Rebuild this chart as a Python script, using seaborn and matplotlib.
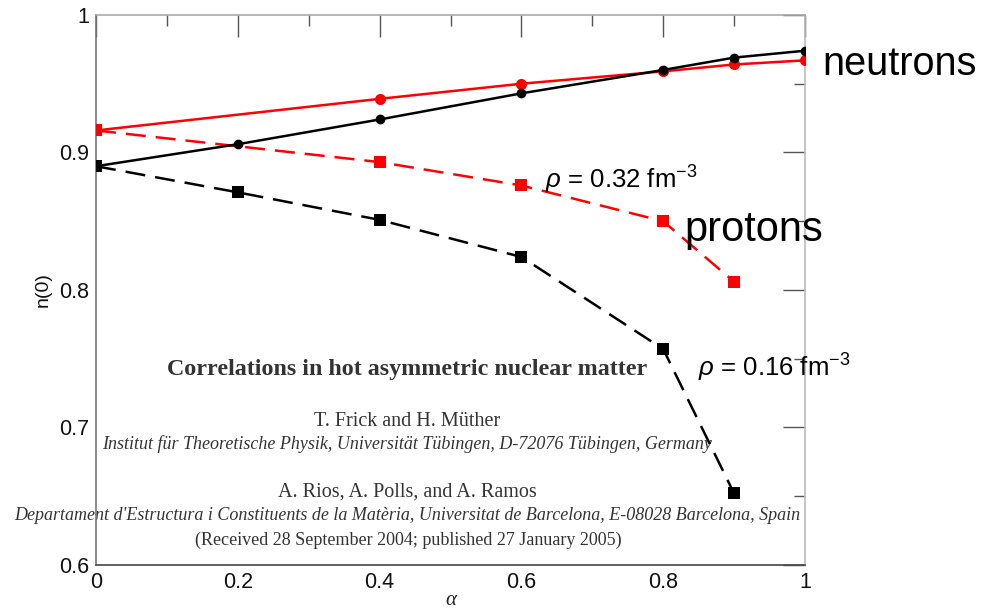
import matplotlib
matplotlib.use("Agg")
import matplotlib.pyplot as plt
import seaborn as sns
from matplotlib.ticker import MultipleLocator

sns.set_theme(style="white")
plt.rcParams["font.family"] = ["Liberation Sans", "DejaVu Sans"]
plt.rcParams["mathtext.fontset"] = "custom"
plt.rcParams["mathtext.rm"] = "Liberation Sans"
plt.rcParams["mathtext.it"] = "Liberation Sans:italic"

# Momentum distribution at zero momentum vs. isospin asymmetry
alpha_n16 = [0.0, 0.2, 0.4, 0.6, 0.8, 0.9, 1.0]
n_neut_16 = [0.890, 0.906, 0.924, 0.943, 0.960, 0.969, 0.974]

alpha_n32 = [0.0, 0.4, 0.6, 0.8, 0.9, 1.0]
n_neut_32 = [0.916, 0.939, 0.950, 0.959, 0.964, 0.967]

alpha_p32 = [0.0, 0.4, 0.6, 0.8, 0.9]
n_prot_32 = [0.916, 0.893, 0.876, 0.850, 0.806]

alpha_p16 = [0.0, 0.2, 0.4, 0.6, 0.8, 0.9]
n_prot_16 = [0.890, 0.871, 0.851, 0.824, 0.757, 0.652]

x_ticks = [0, 0.2, 0.4, 0.6, 0.8, 1]
x_tick_labels = ["0", "0.2", "0.4", "0.6", "0.8", "1"]
y_ticks = [0.6, 0.7, 0.8, 0.9, 1.0]
y_tick_labels = ["0.6", "0.7", "0.8", "0.9", "1"]

fig = plt.figure(figsize=(9.88, 6.11), dpi=100)
ax = fig.add_axes([0.0972, 0.0753, 0.7176, 0.9002])

lw = 1.8
dash = (0, (8, 4))
# neutrons, solid lines with circles
sns.lineplot(x=alpha_n16, y=n_neut_16, ax=ax, color="black", lw=lw,
             marker="o", markersize=7, markeredgewidth=0, zorder=4)
sns.lineplot(x=alpha_n32, y=n_neut_32, ax=ax, color="#ff0000", lw=lw,
             marker="o", markersize=8, markeredgewidth=0, zorder=3)
# protons, dashed lines with squares
sns.lineplot(x=alpha_p32, y=n_prot_32, ax=ax, color="#ff0000", lw=lw,
             marker="s", markersize=8, markeredgewidth=0, zorder=3,
             dashes=False, linestyle=dash)
sns.lineplot(x=alpha_p16, y=n_prot_16, ax=ax, color="black", lw=lw,
             marker="s", markersize=8, markeredgewidth=0, zorder=4,
             dashes=False, linestyle=dash)

ax.set_xlim(0, 1)
ax.set_ylim(0.6, 1.0)
ax.set_xticks(x_ticks)
ax.set_xticklabels(x_tick_labels)
ax.set_yticks(y_ticks)
ax.set_yticklabels(y_tick_labels)
ax.xaxis.set_minor_locator(MultipleLocator(0.1))
ax.yaxis.set_minor_locator(MultipleLocator(0.05))
ax.tick_params(which="major", direction="in", length=16, width=1.0,
               color="#555555", top=True, right=True, labelsize=15.5,
               labelcolor="#111111", pad=5)
ax.tick_params(which="minor", direction="in", length=8, width=1.0,
               color="#555555", top=True, right=True)

for side, col in [("left", "#777777"), ("top", "#aaaaaa"),
                  ("right", "#bbbbbb"), ("bottom", "#444444")]:
    ax.spines[side].set_color(col)
    ax.spines[side].set_linewidth(1.2)
    ax.spines[side].set_visible(True)

ax.set_xlabel("α", family="Liberation Serif", style="italic", fontsize=15,
              color="#222222")
ax.xaxis.set_label_coords(0.5, -0.047)
ax.set_ylabel("n(0)", fontsize=14, color="#111111")
ax.yaxis.set_label_coords(-0.062, 0.5)
ax.grid(False)

# series annotations
fig.text(822 / 988, 1 - 64 / 611, "neutrons", fontsize=28.5, va="center",
         ha="left", color="black")
fig.text(684 / 988, 1 - 230 / 611, "protons", fontsize=30, va="center",
         ha="left", color="black")
fig.text(545 / 988, 1 - 180 / 611, r"$\it{\rho}$ = 0.32 fm$^{-3}$",
         fontsize=18.5, va="center", ha="left", color="black")
fig.text(698 / 988, 1 - 368 / 611, r"$\it{\rho}$ = 0.16 fm$^{-3}$",
         fontsize=18.5, va="center", ha="left", color="black")

# publication header placed inside the plotting area
serif = "Liberation Serif"
hdr = "#333333"
header = [
    (407, 370, "Correlations in hot asymmetric nuclear matter", "bold", "normal", 17.3),
    (407, 421, "T. Frick and H. Müther", "normal", "normal", 14.5),
    (407, 444, "Institut für Theoretische Physik, Universität Tübingen, D-72076 Tübingen, Germany", "normal", "italic", 13.0),
    (407, 492, "A. Rios, A. Polls, and A. Ramos", "normal", "normal", 14.5),
    (407, 516, "Departament d'Estructura i Constituents de la Matèria, Universitat de Barcelona, E-08028 Barcelona, Spain", "normal", "italic", 13.0),
    (408, 540, "(Received 28 September 2004; published 27 January 2005)", "normal", "normal", 13.0),
]
for xp, yp, s, wt, st, fs in header:
    t = ax.text(xp / 988, 1 - yp / 611, s, transform=fig.transFigure,
                family=serif, weight=wt, style=st, fontsize=fs, color=hdr,
                ha="center", va="center", zorder=1)
    t.set_clip_on(False)

fig.savefig("out.png", dpi=100)
